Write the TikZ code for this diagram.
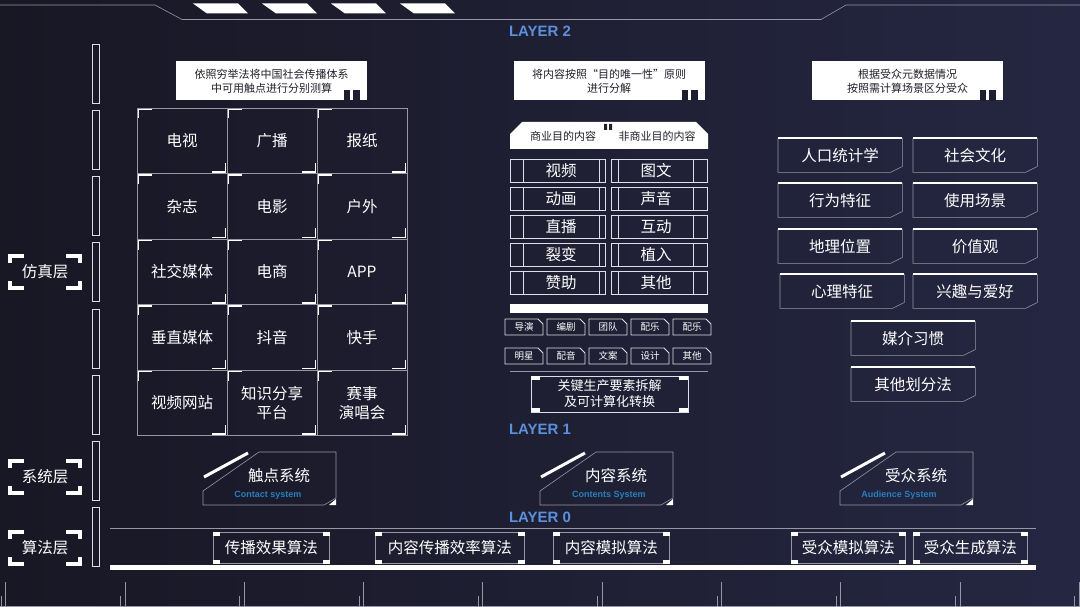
\documentclass[tikz,border=0pt]{standalone}
\usepackage{fontspec}
\setmainfont{Noto Sans CJK SC}
\newfontfamily\layerfont{Liberation Sans}
\usetikzlibrary{positioning, calc}
\definecolor{BgDark}{RGB}{24,23,36}
\definecolor{BgBlue}{RGB}{37,39,66}
\definecolor{LineGrey}{RGB}{150,150,165}
\definecolor{FrameWhite}{RGB}{222,222,230}
\definecolor{LayerBlue}{RGB}{92,144,220}
\definecolor{SysBlue}{RGB}{38,128,190}
\definecolor{InkDark}{RGB}{32,32,42}

\begin{document}
\begin{tikzpicture}[x=1pt, y=-1pt,
    thinline/.style={draw=LineGrey, line width=0.6pt},
    brightline/.style={draw=FrameWhite, line width=0.9pt},
    cjk/.style={text=white, inner sep=0pt, align=center, font=\fontsize{15.5}{19}\selectfont},
    hdrbox/.style={fill=white, text=InkDark, minimum width=191, minimum height=39, inner sep=0pt, align=center, font=\fontsize{11}{14}\selectfont},
    layertag/.style={text=LayerBlue, inner sep=0pt, font=\layerfont\bfseries\fontsize{15}{17}\selectfont},
    systag/.style={text=SysBlue, inner sep=0pt, font=\layerfont\bfseries\fontsize{9}{10}\selectfont},
    tagtext/.style={text=white, inner sep=0pt, font=\fontsize{9.5}{11}\selectfont},
    corner/.style={white, line width=3.5pt}]
  % background and frame
  \shade[left color=BgDark, right color=BgBlue] (0,0) rectangle (1080,607);
  \useasboundingbox (0,0) rectangle (1080,607);
  \draw[thinline] (0,5) -- (155,5) -- (182,19.5) -- (821,19.5) -- (846,5) -- (1080,5);
  \foreach \x in {193,262,331,400}
    \fill[white] (\x,3.5) -- ++(45,0) -- ++(10,10) -- ++(-41,0) -- cycle;
  \node[layertag] (layer2) at (540,31) {LAYER 2};
  \node[layertag] (layer1) at (540,429) {LAYER 1};
  \node[layertag] (layer0) at (540,517) {LAYER 0};

  % left side bars and layer names
  \foreach \k in {0,...,7}
    \draw[brightline, line width=0.7pt] (92,{44+66.25*\k}) rectangle ++(7,59);
  \foreach \y/\nm/\txt in {272/sim/仿真层, 477/sys/系统层, 548/alg/算法层} {
    \node[cjk] (name-\nm) at (45,\y) {\txt};
    \draw[corner] (24,\y-16) -- (10,\y-16) -- (10,\y-9);
    \draw[corner] (10,\y+9) -- (10,\y+16) -- (24,\y+16);
    \draw[corner] (66,\y-16) -- (80,\y-16) -- (80,\y-9);
    \draw[corner] (80,\y+9) -- (80,\y+16) -- (66,\y+16);
  }

  % header boxes
  \node[hdrbox] (hdr-touch) at (271.5,81) {依照穷举法将中国社会传播体系\\中可用触点进行分别测算};
  \node[hdrbox] (hdr-content) at (609,81) {将内容按照“目的唯一性”原则\\进行分解};
  \node[hdrbox] (hdr-audience) at (907.5,81) {根据受众元数据情况\\按照需计算场景区分受众};
  \foreach \n in {hdr-touch, hdr-content, hdr-audience} {
    \fill[BgDark!55!BgBlue] ($(\n.south east)+(-23,-11)$) rectangle ++(6,11);
    \fill[BgDark!55!BgBlue] ($(\n.south east)+(-14,-11)$) rectangle ++(7,11);
  }

  % touch point grid
  \foreach \i in {0,1,2}
    \foreach \j in {0,...,4} {
      \draw[thinline] (137+90*\i,108+65.5*\j) rectangle ++(90,65.5);
      \draw[white, line width=1.5pt] (152+90*\i,109.5+65.5*\j) -- (138.5+90*\i,109.5+65.5*\j) -- ++(0,9);
      \draw[white, line width=1.5pt] (212+90*\i,172+65.5*\j) -- (225.5+90*\i,172+65.5*\j) -- ++(0,-9);
    }
  \foreach \lbl [count=\k from 0] in {电视,广播,报纸,杂志,电影,户外,社交媒体,电商,APP,垂直媒体,抖音,快手,视频网站,{知识分享\\平台},{赛事\\演唱会}} {
    \pgfmathtruncatemacro\col{mod(\k,3)}
    \pgfmathtruncatemacro\row{int(\k/3)}
    \node[cjk] (cell-\k) at (182+90*\col,141+65.5*\row) {\lbl};
  }

  % content panel
  \fill[white] (510,149) -- (510,134) -- (522,122) -- (696,122) -- (708,134) -- (708,149) -- cycle;
  \node[text=InkDark, inner sep=0pt, font=\fontsize{11}{13}\selectfont] (biz) at (563,136.5) {商业目的内容};
  \node[text=InkDark, inner sep=0pt, font=\fontsize{11}{13}\selectfont] (nonbiz) at (657,136.5) {非商业目的内容};
  \fill[InkDark] (604,124) rectangle (607,130) (609,124) rectangle (612,130);
  \foreach \fmtA/\fmtB [count=\k from 0] in {视频/图文, 动画/声音, 直播/互动, 裂变/植入, 赞助/其他} {
    \draw[brightline] (510,159+28*\k) rectangle ++(95,23);
    \draw[brightline] (523,159+28*\k) -- ++(0,23) (599,159+28*\k) -- ++(0,23);
    \draw[brightline] (611,159+28*\k) rectangle ++(96,23);
    \draw[brightline] (618,159+28*\k) -- ++(0,23) (693,159+28*\k) -- ++(0,23);
    \node[cjk] (fmt-a\k) at (561,170.5+28*\k) {\fmtA};
    \node[cjk] (fmt-b\k) at (656,170.5+28*\k) {\fmtB};
  }
  \fill[white] (510,304) rectangle (708,313);
  \foreach \tg [count=\k from 0] in {导演,编剧,团队,配乐,配乐,明星,配音,文案,设计,其他} {
    \pgfmathtruncatemacro\tc{mod(\k,5)}
    \pgfmathtruncatemacro\tr{int(\k/5)}
    \draw[brightline] (505+42*\tc,319+29*\tr) -- ++(33,0) -- ++(5,5) -- ++(0,11) -- ++(-38,0) -- cycle;
    \node[tagtext] (tag-\k) at (524+42*\tc,327+29*\tr) {\tg};
  }
  \draw[thinline] (510,371) -- (708,371);
  \node[draw=FrameWhite, line width=0.8pt, minimum width=157, minimum height=36, text=white, inner sep=0pt, align=center, font=\fontsize{13}{16}\selectfont] (keybox) at (609.5,394) {关键生产要素拆解\\及可计算化转换};
  \foreach \a/\sx/\sy in {north west/1/1, north east/-1/1, south west/1/-1, south east/-1/-1}
    \fill[white] (keybox.\a) rectangle ++(9*\sx,4.5*\sy);

  % audience panel
  \foreach \txt/\x/\y [count=\k] in {人口统计学/778/138, 社会文化/913/138, 行为特征/778/183, 使用场景/913/183, 地理位置/778/229, 价值观/913/229, 心理特征/780/274, 兴趣与爱好/913/274, 媒介习惯/851/321, 其他划分法/851/367} {
    \node[cjk, minimum width=124, minimum height=34, anchor=north west] (aud-\k) at (\x,\y) {\txt};
    \draw[thinline] (aud-\k.north west) -- (aud-\k.south west) -- ($(aud-\k.south east)+(-12,0)$) -- ($(aud-\k.south east)+(0,-6)$) -- (aud-\k.north east);
    \draw[white, line width=1.8pt] (aud-\k.north west) -- (aud-\k.north east);
  }

  % system layer
  \foreach \x/\ex/\cn/\en/\nm in {203/65/触点系统/Contact system/touch, 540/69/内容系统/Contents System/content, 840/59/受众系统/Audience System/audience} {
    \draw[thinline] (\x,505) -- (\x,491) -- (\x+56,452) -- (\x+133,452) -- (\x+133,498) -- (\x+121,505) -- cycle;
    \draw[white, line width=3pt] (\x+1,477) -- (\x+45,453);
    \fill[white] (\x+133,499) -- (\x+133,505) -- (\x+126,505) -- cycle;
    \node[cjk] (sys-\nm) at (\x+76,476) {\cn};
    \node[systag] (sys-\nm-en) at (\x+\ex,495) {\en};
  }

  % algorithm layer
  \draw[thinline] (110,528) -- (1036,528);
  \foreach \x/\w/\txt/\nm in {213/116/传播效果算法/spread, 375/149/内容传播效率算法/rate, 553/116/内容模拟算法/csim, 791/114/受众模拟算法/asim, 913/114/受众生成算法/agen} {
    \node[cjk, draw=LineGrey, line width=0.6pt, minimum width=\w, minimum height=31, anchor=north west] (alg-\nm) at (\x,532) {\txt};
    \foreach \a/\sx/\sy in {north west/1/1, north east/-1/1, south west/1/-1, south east/-1/-1}
      \fill[white] (alg-\nm.\a) rectangle ++(7*\sx,3.5*\sy);
  }
  \fill[white] (110,565) rectangle (1036,570);

  % ruler
  \draw[thinline] (0,606) -- (1080,606);
  \foreach \k in {0,...,9} {
    \draw[thinline] (5.5+119.3*\k,582) -- ++(0,24);
    \draw[thinline] (1+119.3*\k,596) -- ++(0,10);
  }
\end{tikzpicture}
\end{document}
